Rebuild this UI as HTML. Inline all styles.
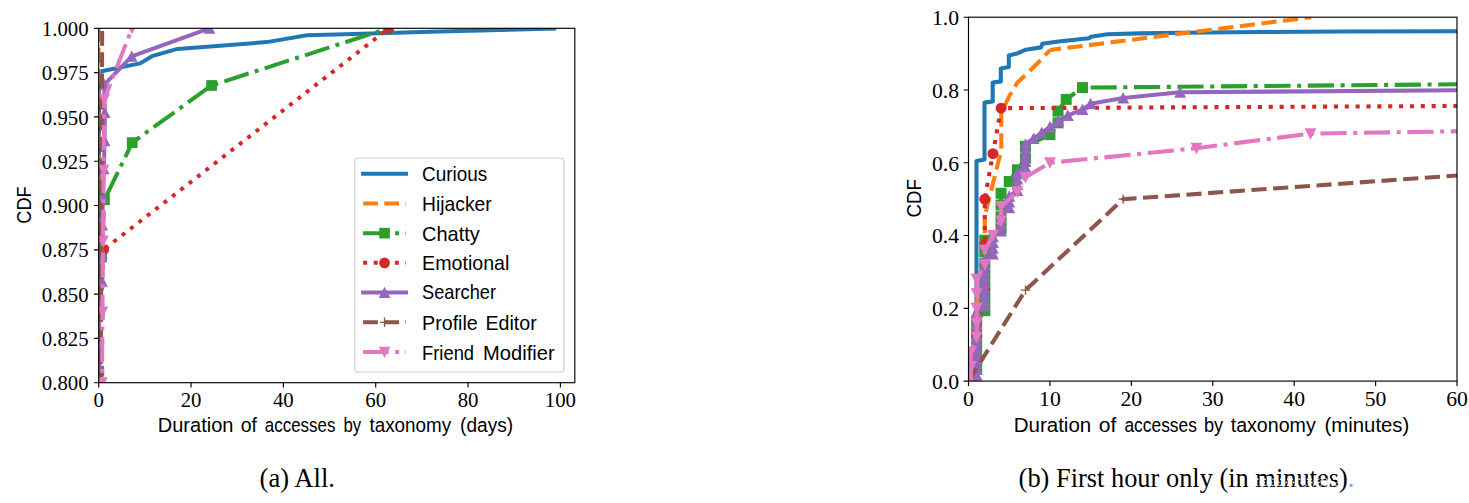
<!DOCTYPE html>
<html><head><meta charset="utf-8"><title>CDF of access durations</title>
<style>
html,body{margin:0;padding:0;background:#fff;}
body{width:1469px;height:503px;overflow:hidden;font-family:"Liberation Sans",sans-serif;}
svg{display:block;}
</style></head><body>
<svg width="1469" height="503" viewBox="0 0 1469 503">
<rect width="1469" height="503" fill="#ffffff"/>
<defs>
<clipPath id="cl"><rect x="98.7" y="28.3" width="476.1" height="354.4"/></clipPath>
<clipPath id="cr"><rect x="968.5" y="17.2" width="488.5" height="363.9"/></clipPath>
</defs>
<g clip-path="url(#cl)">
<path d="M99 420 L99 73.5 L101.5 71.3 L140.1 63.4 L152 56.2 L177.5 48.9 L266.9 42.1 L306.9 35.2 L345 34.2 L388 33 L430 31.8 L554.2 28.5" fill="none" stroke="#1f77b4" stroke-width="4" stroke-linejoin="round" stroke-linecap="square"/>
<path d="M98.5 420 L98.5 20" fill="none" stroke="#ff7f0e" stroke-width="4" stroke-linejoin="round" stroke-linecap="butt" stroke-dasharray="14.8 6.4" stroke-dashoffset="3"/>
<path d="M98.8 430 L98.8 371.27 L99.2 314.11 L101.5 256.95 L104.5 199.78 L132.2 142.62 L211.6 85.46 L388.6 28.3" fill="none" stroke="#2ca02c" stroke-width="4" stroke-linejoin="round" stroke-linecap="butt" stroke-dasharray="25.6 6.4 4 6.4" stroke-dashoffset="18.96"/>
<rect x="93.45" y="365.92" width="10.7" height="10.7" fill="#2ca02c"/>
<rect x="93.85" y="308.76" width="10.7" height="10.7" fill="#2ca02c"/>
<rect x="96.15" y="251.6" width="10.7" height="10.7" fill="#2ca02c"/>
<rect x="99.15" y="194.43" width="10.7" height="10.7" fill="#2ca02c"/>
<rect x="126.85" y="137.27" width="10.7" height="10.7" fill="#2ca02c"/>
<rect x="206.25" y="80.11" width="10.7" height="10.7" fill="#2ca02c"/>
<rect x="383.25" y="22.95" width="10.7" height="10.7" fill="#2ca02c"/>
<path d="M98.8 471 L101.2 300 L103.7 249.6 L388.8 28.3" fill="none" stroke="#d62728" stroke-width="4" stroke-linejoin="round" stroke-linecap="butt" stroke-dasharray="4 6.6" stroke-dashoffset="9.92"/>
<circle cx="103.7" cy="249.6" r="5.35" fill="#d62728"/>
<circle cx="388.8" cy="28.3" r="5.35" fill="#d62728"/>
<path d="M98.9 430 L98.9 393.95 L98.9 365.82 L99 337.7 L99.2 309.57 L102 281.44 L102.1 253.32 L102.3 225.19 L102.9 197.06 L103.8 168.93 L104.6 140.81 L104.8 112.68 L104.3 84.55 L131.7 56.43 L209.5 28.3" fill="none" stroke="#9467bd" stroke-width="4" stroke-linejoin="round" stroke-linecap="square"/>
<path d="M98.9 388 L104.7 399.3 L93.1 399.3 Z" fill="#9467bd"/>
<path d="M98.9 359.87 L104.7 371.17 L93.1 371.17 Z" fill="#9467bd"/>
<path d="M99 331.75 L104.8 343.05 L93.2 343.05 Z" fill="#9467bd"/>
<path d="M99.2 303.62 L105 314.92 L93.4 314.92 Z" fill="#9467bd"/>
<path d="M102 275.49 L107.8 286.79 L96.2 286.79 Z" fill="#9467bd"/>
<path d="M102.1 247.37 L107.9 258.67 L96.3 258.67 Z" fill="#9467bd"/>
<path d="M102.3 219.24 L108.1 230.54 L96.5 230.54 Z" fill="#9467bd"/>
<path d="M102.9 191.11 L108.7 202.41 L97.1 202.41 Z" fill="#9467bd"/>
<path d="M103.8 162.98 L109.6 174.28 L98 174.28 Z" fill="#9467bd"/>
<path d="M104.6 134.86 L110.4 146.16 L98.8 146.16 Z" fill="#9467bd"/>
<path d="M104.8 106.73 L110.6 118.03 L99 118.03 Z" fill="#9467bd"/>
<path d="M104.3 78.6 L110.1 89.9 L98.5 89.9 Z" fill="#9467bd"/>
<path d="M131.7 50.48 L137.5 61.78 L125.9 61.78 Z" fill="#9467bd"/>
<path d="M209.5 22.35 L215.3 33.65 L203.7 33.65 Z" fill="#9467bd"/>
<path d="M100.4 470 L102.2 28.3" fill="none" stroke="#8c564b" stroke-width="4" stroke-linejoin="round" stroke-linecap="butt" stroke-dasharray="14.8 6.4" stroke-dashoffset="21"/>
<path d="M101.5 450 L102 382.7 L102.5 311.82 L103 240.94 L103.6 170.06 L104.3 99.18 L132.1 28.3" fill="none" stroke="#e377c2" stroke-width="4" stroke-linejoin="round" stroke-linecap="butt" stroke-dasharray="25.6 6.4 4 6.4" stroke-dashoffset="39.76"/>
<path d="M102 388.65 L107.8 377.35 L96.2 377.35 Z" fill="#e377c2"/>
<path d="M102.5 317.77 L108.3 306.47 L96.7 306.47 Z" fill="#e377c2"/>
<path d="M103 246.89 L108.8 235.59 L97.2 235.59 Z" fill="#e377c2"/>
<path d="M103.6 176.01 L109.4 164.71 L97.8 164.71 Z" fill="#e377c2"/>
<path d="M104.3 105.13 L110.1 93.83 L98.5 93.83 Z" fill="#e377c2"/>
<path d="M132.1 34.25 L137.9 22.95 L126.3 22.95 Z" fill="#e377c2"/>
</g>
<g clip-path="url(#cr)">
<path d="M976.5 385 L976.5 161 L984.5 159.6 L984.5 102.6 L992.7 101.4 L992.7 82.6 L1000.8 81.4 L1000.8 68.5 L1008.8 67 L1008.8 55.4 L1016.9 53.6 L1025.8 49.7 L1041 47.4 L1042.3 43.8 L1058.4 41.5 L1089 38.3 L1091 36.7 L1107.4 34.2 L1140 33.4 L1183 32.7 L1260 32 L1340 31.5 L1457 31.2" fill="none" stroke="#1f77b4" stroke-width="4.1" stroke-linejoin="round" stroke-linecap="square"/>
<path d="M976.6 385 L976.6 300 L984.8 300 L984.8 216 L1001.3 150 L1001.3 113 L1009.3 96 L1017.4 82.5 L1025.6 74.8 L1033.7 67 L1041.8 59 L1049.9 50" fill="none" stroke="#ff7f0e" stroke-width="4.1" stroke-linejoin="round" stroke-linecap="butt" stroke-dasharray="15.17 6.56" stroke-dashoffset="14"/>
<path d="M1049.9 50 L1311.3 17.2" fill="none" stroke="#ff7f0e" stroke-width="4.1" stroke-linejoin="round" stroke-linecap="butt" stroke-dasharray="15.17 6.56" stroke-dashoffset="4.1"/>
<path d="M976.64 385 L976.64 369.36 L976.64 357.62 L976.64 345.88 L976.64 334.15 L976.64 322.41 L984.78 310.67 L984.78 298.93 L984.78 287.19 L984.78 275.45 L984.78 263.71 L984.78 251.97 L984.78 240.24 L1001.07 228.5 L1001.07 216.76 L1001.07 205.02 L1001.07 193.28 L1009.21 181.54 L1017.35 169.8 L1025.49 158.06 L1025.49 146.33 L1049.92 134.59 L1058.06 122.85 L1058.06 111.11 L1066.2 99.37 L1082.49 87.63 L1457 84.3" fill="none" stroke="#2ca02c" stroke-width="4.1" stroke-linejoin="round" stroke-linecap="butt" stroke-dasharray="26.24 6.56 4.1 6.56" stroke-dashoffset="38.44"/>
<rect x="971.14" y="363.86" width="11" height="11" fill="#2ca02c"/>
<rect x="971.14" y="352.12" width="11" height="11" fill="#2ca02c"/>
<rect x="971.14" y="340.38" width="11" height="11" fill="#2ca02c"/>
<rect x="971.14" y="328.65" width="11" height="11" fill="#2ca02c"/>
<rect x="971.14" y="316.91" width="11" height="11" fill="#2ca02c"/>
<rect x="979.28" y="305.17" width="11" height="11" fill="#2ca02c"/>
<rect x="979.28" y="293.43" width="11" height="11" fill="#2ca02c"/>
<rect x="979.28" y="281.69" width="11" height="11" fill="#2ca02c"/>
<rect x="979.28" y="269.95" width="11" height="11" fill="#2ca02c"/>
<rect x="979.28" y="258.21" width="11" height="11" fill="#2ca02c"/>
<rect x="979.28" y="246.47" width="11" height="11" fill="#2ca02c"/>
<rect x="979.28" y="234.74" width="11" height="11" fill="#2ca02c"/>
<rect x="995.57" y="223" width="11" height="11" fill="#2ca02c"/>
<rect x="995.57" y="211.26" width="11" height="11" fill="#2ca02c"/>
<rect x="995.57" y="199.52" width="11" height="11" fill="#2ca02c"/>
<rect x="995.57" y="187.78" width="11" height="11" fill="#2ca02c"/>
<rect x="1003.71" y="176.04" width="11" height="11" fill="#2ca02c"/>
<rect x="1011.85" y="164.3" width="11" height="11" fill="#2ca02c"/>
<rect x="1019.99" y="152.56" width="11" height="11" fill="#2ca02c"/>
<rect x="1019.99" y="140.83" width="11" height="11" fill="#2ca02c"/>
<rect x="1044.42" y="129.09" width="11" height="11" fill="#2ca02c"/>
<rect x="1052.56" y="117.35" width="11" height="11" fill="#2ca02c"/>
<rect x="1052.56" y="105.61" width="11" height="11" fill="#2ca02c"/>
<rect x="1060.7" y="93.87" width="11" height="11" fill="#2ca02c"/>
<rect x="1076.99" y="82.13" width="11" height="11" fill="#2ca02c"/>
<path d="M971.35 385 L976.64 335.61 L984.78 290.12 L984.78 244.64 L984.78 199.15 L992.93 153.66 L1001.07 108.18 L1457 106" fill="none" stroke="#d62728" stroke-width="4.1" stroke-linejoin="round" stroke-linecap="butt" stroke-dasharray="4.1 6.76" stroke-dashoffset="6.93"/>
<circle cx="976.64" cy="335.61" r="5.5" fill="#d62728"/>
<circle cx="984.78" cy="290.12" r="5.5" fill="#d62728"/>
<circle cx="984.78" cy="244.64" r="5.5" fill="#d62728"/>
<circle cx="984.78" cy="199.15" r="5.5" fill="#d62728"/>
<circle cx="992.93" cy="153.66" r="5.5" fill="#d62728"/>
<circle cx="1001.07" cy="108.18" r="5.5" fill="#d62728"/>
<path d="M976.64 385 L976.64 375.32 L976.64 369.55 L976.64 363.77 L976.64 358 L976.64 352.22 L976.64 346.44 L976.64 340.67 L976.64 334.89 L976.64 329.11 L976.64 323.34 L976.64 317.56 L976.64 311.79 L984.78 306.01 L984.78 300.23 L984.78 294.46 L984.78 288.68 L984.78 282.9 L984.78 277.13 L984.78 271.35 L984.78 265.58 L984.78 259.8 L992.93 254.02 L992.93 248.25 L992.93 242.47 L992.93 236.7 L1001.07 230.92 L1001.07 225.14 L1001.07 219.37 L1001.07 213.59 L1009.21 207.81 L1009.21 202.04 L1009.21 196.26 L1017.35 190.49 L1017.35 184.71 L1017.35 178.93 L1017.35 173.16 L1025.49 167.38 L1025.49 161.6 L1025.49 155.83 L1025.49 150.05 L1025.49 144.28 L1033.64 138.5 L1041.78 132.72 L1049.92 126.95 L1058.06 121.17 L1067.83 115.4 L1082.49 109.62 L1090.63 103.84 L1123.2 98.07 L1180.19 92.29 L1457 90.3" fill="none" stroke="#9467bd" stroke-width="4.1" stroke-linejoin="round" stroke-linecap="square"/>
<path d="M976.64 369.22 L982.59 380.82 L970.69 380.82 Z" fill="#9467bd"/>
<path d="M976.64 363.45 L982.59 375.05 L970.69 375.05 Z" fill="#9467bd"/>
<path d="M976.64 357.67 L982.59 369.27 L970.69 369.27 Z" fill="#9467bd"/>
<path d="M976.64 351.9 L982.59 363.5 L970.69 363.5 Z" fill="#9467bd"/>
<path d="M976.64 346.12 L982.59 357.72 L970.69 357.72 Z" fill="#9467bd"/>
<path d="M976.64 340.34 L982.59 351.94 L970.69 351.94 Z" fill="#9467bd"/>
<path d="M976.64 334.57 L982.59 346.17 L970.69 346.17 Z" fill="#9467bd"/>
<path d="M976.64 328.79 L982.59 340.39 L970.69 340.39 Z" fill="#9467bd"/>
<path d="M976.64 323.01 L982.59 334.61 L970.69 334.61 Z" fill="#9467bd"/>
<path d="M976.64 317.24 L982.59 328.84 L970.69 328.84 Z" fill="#9467bd"/>
<path d="M976.64 311.46 L982.59 323.06 L970.69 323.06 Z" fill="#9467bd"/>
<path d="M976.64 305.69 L982.59 317.29 L970.69 317.29 Z" fill="#9467bd"/>
<path d="M984.78 299.91 L990.73 311.51 L978.83 311.51 Z" fill="#9467bd"/>
<path d="M984.78 294.13 L990.73 305.73 L978.83 305.73 Z" fill="#9467bd"/>
<path d="M984.78 288.36 L990.73 299.96 L978.83 299.96 Z" fill="#9467bd"/>
<path d="M984.78 282.58 L990.73 294.18 L978.83 294.18 Z" fill="#9467bd"/>
<path d="M984.78 276.8 L990.73 288.4 L978.83 288.4 Z" fill="#9467bd"/>
<path d="M984.78 271.03 L990.73 282.63 L978.83 282.63 Z" fill="#9467bd"/>
<path d="M984.78 265.25 L990.73 276.85 L978.83 276.85 Z" fill="#9467bd"/>
<path d="M984.78 259.48 L990.73 271.08 L978.83 271.08 Z" fill="#9467bd"/>
<path d="M984.78 253.7 L990.73 265.3 L978.83 265.3 Z" fill="#9467bd"/>
<path d="M992.93 247.92 L998.88 259.52 L986.98 259.52 Z" fill="#9467bd"/>
<path d="M992.93 242.15 L998.88 253.75 L986.98 253.75 Z" fill="#9467bd"/>
<path d="M992.93 236.37 L998.88 247.97 L986.98 247.97 Z" fill="#9467bd"/>
<path d="M992.93 230.6 L998.88 242.2 L986.98 242.2 Z" fill="#9467bd"/>
<path d="M1001.07 224.82 L1007.02 236.42 L995.12 236.42 Z" fill="#9467bd"/>
<path d="M1001.07 219.04 L1007.02 230.64 L995.12 230.64 Z" fill="#9467bd"/>
<path d="M1001.07 213.27 L1007.02 224.87 L995.12 224.87 Z" fill="#9467bd"/>
<path d="M1001.07 207.49 L1007.02 219.09 L995.12 219.09 Z" fill="#9467bd"/>
<path d="M1009.21 201.71 L1015.16 213.31 L1003.26 213.31 Z" fill="#9467bd"/>
<path d="M1009.21 195.94 L1015.16 207.54 L1003.26 207.54 Z" fill="#9467bd"/>
<path d="M1009.21 190.16 L1015.16 201.76 L1003.26 201.76 Z" fill="#9467bd"/>
<path d="M1017.35 184.39 L1023.3 195.99 L1011.4 195.99 Z" fill="#9467bd"/>
<path d="M1017.35 178.61 L1023.3 190.21 L1011.4 190.21 Z" fill="#9467bd"/>
<path d="M1017.35 172.83 L1023.3 184.43 L1011.4 184.43 Z" fill="#9467bd"/>
<path d="M1017.35 167.06 L1023.3 178.66 L1011.4 178.66 Z" fill="#9467bd"/>
<path d="M1025.49 161.28 L1031.44 172.88 L1019.54 172.88 Z" fill="#9467bd"/>
<path d="M1025.49 155.5 L1031.44 167.1 L1019.54 167.1 Z" fill="#9467bd"/>
<path d="M1025.49 149.73 L1031.44 161.33 L1019.54 161.33 Z" fill="#9467bd"/>
<path d="M1025.49 143.95 L1031.44 155.55 L1019.54 155.55 Z" fill="#9467bd"/>
<path d="M1025.49 138.18 L1031.44 149.78 L1019.54 149.78 Z" fill="#9467bd"/>
<path d="M1033.64 132.4 L1039.59 144 L1027.69 144 Z" fill="#9467bd"/>
<path d="M1041.78 126.62 L1047.73 138.22 L1035.83 138.22 Z" fill="#9467bd"/>
<path d="M1049.92 120.85 L1055.87 132.45 L1043.97 132.45 Z" fill="#9467bd"/>
<path d="M1058.06 115.07 L1064.01 126.67 L1052.11 126.67 Z" fill="#9467bd"/>
<path d="M1067.83 109.3 L1073.78 120.9 L1061.88 120.9 Z" fill="#9467bd"/>
<path d="M1082.49 103.52 L1088.44 115.12 L1076.54 115.12 Z" fill="#9467bd"/>
<path d="M1090.63 97.74 L1096.58 109.34 L1084.68 109.34 Z" fill="#9467bd"/>
<path d="M1123.2 91.97 L1129.15 103.57 L1117.25 103.57 Z" fill="#9467bd"/>
<path d="M1180.19 86.19 L1186.14 97.79 L1174.24 97.79 Z" fill="#9467bd"/>
<path d="M968.5 381.1 L1025.49 290.12 L1123.2 199.15 L1457 175.5" fill="none" stroke="#8c564b" stroke-width="4.1" stroke-linejoin="round" stroke-linecap="butt" stroke-dasharray="15.17 6.56" stroke-dashoffset="0"/>
<path d="M963.8 381.1 H973.2 M968.5 376.4 V385.8" stroke="#8c564b" stroke-width="1.35" fill="none"/>
<path d="M1020.79 290.12 H1030.19 M1025.49 285.43 V294.82" stroke="#8c564b" stroke-width="1.35" fill="none"/>
<path d="M1118.5 199.15 H1127.9 M1123.2 194.45 V203.85" stroke="#8c564b" stroke-width="1.35" fill="none"/>
<path d="M970.94 385 L970.94 366.54 L970.94 351.99 L976.64 337.43 L976.64 322.88 L976.64 308.32 L976.64 293.76 L976.64 279.21 L984.78 264.65 L984.78 250.1 L992.93 235.54 L1001.07 220.98 L1001.07 206.43 L1017.35 191.87 L1025.49 177.32 L1049.92 162.76 L1196.48 148.2 L1310.46 133.65 L1457 131.3" fill="none" stroke="#e377c2" stroke-width="4.1" stroke-linejoin="round" stroke-linecap="butt" stroke-dasharray="26.24 6.56 4.1 6.56" stroke-dashoffset="39.88"/>
<path d="M970.94 372.64 L976.89 361.04 L964.99 361.04 Z" fill="#e377c2"/>
<path d="M970.94 358.09 L976.89 346.49 L964.99 346.49 Z" fill="#e377c2"/>
<path d="M976.64 343.53 L982.59 331.93 L970.69 331.93 Z" fill="#e377c2"/>
<path d="M976.64 328.98 L982.59 317.38 L970.69 317.38 Z" fill="#e377c2"/>
<path d="M976.64 314.42 L982.59 302.82 L970.69 302.82 Z" fill="#e377c2"/>
<path d="M976.64 299.86 L982.59 288.26 L970.69 288.26 Z" fill="#e377c2"/>
<path d="M976.64 285.31 L982.59 273.71 L970.69 273.71 Z" fill="#e377c2"/>
<path d="M984.78 270.75 L990.73 259.15 L978.83 259.15 Z" fill="#e377c2"/>
<path d="M984.78 256.2 L990.73 244.6 L978.83 244.6 Z" fill="#e377c2"/>
<path d="M992.93 241.64 L998.88 230.04 L986.98 230.04 Z" fill="#e377c2"/>
<path d="M1001.07 227.08 L1007.02 215.48 L995.12 215.48 Z" fill="#e377c2"/>
<path d="M1001.07 212.53 L1007.02 200.93 L995.12 200.93 Z" fill="#e377c2"/>
<path d="M1017.35 197.97 L1023.3 186.37 L1011.4 186.37 Z" fill="#e377c2"/>
<path d="M1025.49 183.42 L1031.44 171.82 L1019.54 171.82 Z" fill="#e377c2"/>
<path d="M1049.92 168.86 L1055.87 157.26 L1043.97 157.26 Z" fill="#e377c2"/>
<path d="M1196.48 154.3 L1202.43 142.7 L1190.53 142.7 Z" fill="#e377c2"/>
<path d="M1310.46 139.75 L1316.41 128.15 L1304.51 128.15 Z" fill="#e377c2"/>
</g>
<rect x="98.7" y="28.3" width="476.1" height="354.4" fill="none" stroke="#000" stroke-width="1.15"/>
<path d="M98.7 382.7 v4.7 M191.04 382.7 v4.7 M283.38 382.7 v4.7 M375.72 382.7 v4.7 M468.06 382.7 v4.7 M560.4 382.7 v4.7 M98.7 382.7 h-4.7 M98.7 338.4 h-4.7 M98.7 294.1 h-4.7 M98.7 249.8 h-4.7 M98.7 205.5 h-4.7 M98.7 161.2 h-4.7 M98.7 116.9 h-4.7 M98.7 72.6 h-4.7 M98.7 28.3 h-4.7 " stroke="#000" stroke-width="1.15" fill="none"/>
<rect x="968.5" y="17.2" width="488.5" height="363.9" fill="none" stroke="#000" stroke-width="1.15"/>
<path d="M968.5 381.1 v4.9 M1049.92 381.1 v4.9 M1131.34 381.1 v4.9 M1212.76 381.1 v4.9 M1294.18 381.1 v4.9 M1375.6 381.1 v4.9 M1457.02 381.1 v4.9 M968.5 381.1 h-4.9 M968.5 308.32 h-4.9 M968.5 235.54 h-4.9 M968.5 162.76 h-4.9 M968.5 89.98 h-4.9 M968.5 17.2 h-4.9 " stroke="#000" stroke-width="1.15" fill="none"/>
<text x="88.6" y="390.3" font-family="Liberation Serif, serif" font-size="20.8" text-anchor="end" fill="#000" >0.800</text>
<text x="88.6" y="346" font-family="Liberation Serif, serif" font-size="20.8" text-anchor="end" fill="#000" >0.825</text>
<text x="88.6" y="301.7" font-family="Liberation Serif, serif" font-size="20.8" text-anchor="end" fill="#000" >0.850</text>
<text x="88.6" y="257.4" font-family="Liberation Serif, serif" font-size="20.8" text-anchor="end" fill="#000" >0.875</text>
<text x="88.6" y="213.1" font-family="Liberation Serif, serif" font-size="20.8" text-anchor="end" fill="#000" >0.900</text>
<text x="88.6" y="168.8" font-family="Liberation Serif, serif" font-size="20.8" text-anchor="end" fill="#000" >0.925</text>
<text x="88.6" y="124.5" font-family="Liberation Serif, serif" font-size="20.8" text-anchor="end" fill="#000" >0.950</text>
<text x="88.6" y="80.2" font-family="Liberation Serif, serif" font-size="20.8" text-anchor="end" fill="#000" >0.975</text>
<text x="88.6" y="35.9" font-family="Liberation Serif, serif" font-size="20.8" text-anchor="end" fill="#000" >1.000</text>
<text x="98.7" y="407" font-family="Liberation Serif, serif" font-size="20.8" text-anchor="middle" fill="#000" >0</text>
<text x="191.04" y="407" font-family="Liberation Serif, serif" font-size="20.8" text-anchor="middle" fill="#000" >20</text>
<text x="283.38" y="407" font-family="Liberation Serif, serif" font-size="20.8" text-anchor="middle" fill="#000" >40</text>
<text x="375.72" y="407" font-family="Liberation Serif, serif" font-size="20.8" text-anchor="middle" fill="#000" >60</text>
<text x="468.06" y="407" font-family="Liberation Serif, serif" font-size="20.8" text-anchor="middle" fill="#000" >80</text>
<text x="560.4" y="407" font-family="Liberation Serif, serif" font-size="20.8" text-anchor="middle" fill="#000" >100</text>
<text x="959" y="388.9" font-family="Liberation Serif, serif" font-size="21.7" text-anchor="end" fill="#000" >0.0</text>
<text x="959" y="316.12" font-family="Liberation Serif, serif" font-size="21.7" text-anchor="end" fill="#000" >0.2</text>
<text x="959" y="243.34" font-family="Liberation Serif, serif" font-size="21.7" text-anchor="end" fill="#000" >0.4</text>
<text x="959" y="170.56" font-family="Liberation Serif, serif" font-size="21.7" text-anchor="end" fill="#000" >0.6</text>
<text x="959" y="97.78" font-family="Liberation Serif, serif" font-size="21.7" text-anchor="end" fill="#000" >0.8</text>
<text x="959" y="25" font-family="Liberation Serif, serif" font-size="21.7" text-anchor="end" fill="#000" >1.0</text>
<text x="968.5" y="406" font-family="Liberation Serif, serif" font-size="21.7" text-anchor="middle" fill="#000" >0</text>
<text x="1049.92" y="406" font-family="Liberation Serif, serif" font-size="21.7" text-anchor="middle" fill="#000" >10</text>
<text x="1131.34" y="406" font-family="Liberation Serif, serif" font-size="21.7" text-anchor="middle" fill="#000" >20</text>
<text x="1212.76" y="406" font-family="Liberation Serif, serif" font-size="21.7" text-anchor="middle" fill="#000" >30</text>
<text x="1294.18" y="406" font-family="Liberation Serif, serif" font-size="21.7" text-anchor="middle" fill="#000" >40</text>
<text x="1375.6" y="406" font-family="Liberation Serif, serif" font-size="21.7" text-anchor="middle" fill="#000" >50</text>
<text x="1457.02" y="406" font-family="Liberation Serif, serif" font-size="21.7" text-anchor="middle" fill="#000" >60</text>
<text x="157.8" y="432.1" font-family="Liberation Sans, sans-serif" font-size="19.9" text-anchor="start" fill="#000" textLength="75.6" lengthAdjust="spacingAndGlyphs" >Duration</text>
<text x="240.8" y="432.1" font-family="Liberation Sans, sans-serif" font-size="19.9" text-anchor="start" fill="#000" textLength="16.2" lengthAdjust="spacingAndGlyphs" >of</text>
<text x="264.8" y="432.1" font-family="Liberation Sans, sans-serif" font-size="19.9" text-anchor="start" fill="#000" textLength="70.6" lengthAdjust="spacingAndGlyphs" >accesses</text>
<text x="343.5" y="432.1" font-family="Liberation Sans, sans-serif" font-size="19.9" text-anchor="start" fill="#000" textLength="17.7" lengthAdjust="spacingAndGlyphs" >by</text>
<text x="369.5" y="432.1" font-family="Liberation Sans, sans-serif" font-size="19.9" text-anchor="start" fill="#000" textLength="81.6" lengthAdjust="spacingAndGlyphs" >taxonomy</text>
<text x="460.1" y="432.1" font-family="Liberation Sans, sans-serif" font-size="19.9" text-anchor="start" fill="#000" textLength="53.1" lengthAdjust="spacingAndGlyphs" >(days)</text>
<text x="1013.7" y="432.1" font-family="Liberation Sans, sans-serif" font-size="20.1" text-anchor="start" fill="#000" textLength="77.5" lengthAdjust="spacingAndGlyphs" >Duration</text>
<text x="1098.7" y="432.1" font-family="Liberation Sans, sans-serif" font-size="20.1" text-anchor="start" fill="#000" textLength="17.6" lengthAdjust="spacingAndGlyphs" >of</text>
<text x="1124.4" y="432.1" font-family="Liberation Sans, sans-serif" font-size="20.1" text-anchor="start" fill="#000" textLength="72.5" lengthAdjust="spacingAndGlyphs" >accesses</text>
<text x="1204" y="432.1" font-family="Liberation Sans, sans-serif" font-size="20.1" text-anchor="start" fill="#000" textLength="19.2" lengthAdjust="spacingAndGlyphs" >by</text>
<text x="1230.7" y="432.1" font-family="Liberation Sans, sans-serif" font-size="20.1" text-anchor="start" fill="#000" textLength="85.1" lengthAdjust="spacingAndGlyphs" >taxonomy</text>
<text x="1324.6" y="432.1" font-family="Liberation Sans, sans-serif" font-size="20.1" text-anchor="start" fill="#000" textLength="84.7" lengthAdjust="spacingAndGlyphs" >(minutes)</text>
<text transform="translate(30.8 205) rotate(-90)" font-family="Liberation Sans, sans-serif" font-size="19.8" text-anchor="middle" textLength="37.3" lengthAdjust="spacingAndGlyphs">CDF</text>
<text transform="translate(920.8 198.3) rotate(-90)" font-family="Liberation Sans, sans-serif" font-size="20.2" text-anchor="middle" textLength="38.4" lengthAdjust="spacingAndGlyphs">CDF</text>
<text x="259.6" y="486.8" font-family="Liberation Serif, serif" font-size="26.6" text-anchor="start" fill="#000" >(a) All.</text>
<text x="1018.6" y="487" font-family="Liberation Serif, serif" font-size="26.4" text-anchor="start" fill="#000" >(b) First hour only (in minutes)<tspan fill="#9a9a9a">.</tspan></text>
<path d="M1257 479.2 H1339" stroke="#ffffff" stroke-width="1.5" stroke-dasharray="1.5 2.3 1.2 1.9 2 2.6" fill="none" opacity="0.85"/>
<path d="M1258 482.5 H1338" stroke="#ffffff" stroke-width="1.5" stroke-dasharray="1.3 1.8 1.8 2.4" stroke-dashoffset="1.5" fill="none" opacity="0.95"/>
<path d="M1257.5 485.6 H1338.5" stroke="#ffffff" stroke-width="1.5" stroke-dasharray="1.6 2.1 1.2 2.6" stroke-dashoffset="0.7" fill="none" opacity="0.9"/>
<rect x="354.8" y="158.1" width="209.1" height="214" rx="3.2" ry="3.2" fill="#ffffff" fill-opacity="0.8" stroke="#cccccc" stroke-opacity="0.8" stroke-width="1.35"/>
<path d="M363.1 173.7 L406 173.7" fill="none" stroke="#1f77b4" stroke-width="4" stroke-linejoin="round" stroke-linecap="square"/>
<text x="422.1" y="180.7" font-family="Liberation Sans, sans-serif" font-size="20.3" text-anchor="start" fill="#000" textLength="65.1" lengthAdjust="spacingAndGlyphs" >Curious</text>
<path d="M363.1 203.42 L406 203.42" fill="none" stroke="#ff7f0e" stroke-width="4" stroke-linejoin="round" stroke-linecap="butt" stroke-dasharray="14.8 6.4" stroke-dashoffset="0"/>
<text x="422.1" y="210.7" font-family="Liberation Sans, sans-serif" font-size="20.3" text-anchor="start" fill="#000" textLength="69.6" lengthAdjust="spacingAndGlyphs" >Hijacker</text>
<path d="M363.1 233.14 L406 233.14" fill="none" stroke="#2ca02c" stroke-width="4" stroke-linejoin="round" stroke-linecap="butt" stroke-dasharray="25.6 6.4 4 6.4" stroke-dashoffset="0"/>
<rect x="379.2" y="227.79" width="10.7" height="10.7" fill="#2ca02c"/>
<text x="422.1" y="240.9" font-family="Liberation Sans, sans-serif" font-size="20.3" text-anchor="start" fill="#000" textLength="57.7" lengthAdjust="spacingAndGlyphs" >Chatty</text>
<path d="M363.1 262.86 L406 262.86" fill="none" stroke="#d62728" stroke-width="4" stroke-linejoin="round" stroke-linecap="butt" stroke-dasharray="4 6.6" stroke-dashoffset="0"/>
<circle cx="384.55" cy="262.86" r="5.35" fill="#d62728"/>
<text x="422.1" y="269.7" font-family="Liberation Sans, sans-serif" font-size="20.3" text-anchor="start" fill="#000" textLength="87.3" lengthAdjust="spacingAndGlyphs" >Emotional</text>
<path d="M363.1 292.58 L406 292.58" fill="none" stroke="#9467bd" stroke-width="4" stroke-linejoin="round" stroke-linecap="square"/>
<path d="M384.55 286.63 L390.35 297.93 L378.75 297.93 Z" fill="#9467bd"/>
<text x="422.1" y="299.2" font-family="Liberation Sans, sans-serif" font-size="20.3" text-anchor="start" fill="#000" textLength="73.9" lengthAdjust="spacingAndGlyphs" >Searcher</text>
<path d="M363.1 322.3 L406 322.3" fill="none" stroke="#8c564b" stroke-width="4" stroke-linejoin="round" stroke-linecap="butt" stroke-dasharray="14.8 6.4" stroke-dashoffset="0"/>
<path d="M379.85 322.3 H389.25 M384.55 317.6 V327" stroke="#8c564b" stroke-width="1.35" fill="none"/>
<text x="422" y="329.7" font-family="Liberation Sans, sans-serif" font-size="20.3" text-anchor="start" fill="#000" textLength="55.8" lengthAdjust="spacingAndGlyphs" >Profile</text>
<text x="485.4" y="329.7" font-family="Liberation Sans, sans-serif" font-size="20.3" text-anchor="start" fill="#000" textLength="51.3" lengthAdjust="spacingAndGlyphs" >Editor</text>
<path d="M363.1 352.02 L406 352.02" fill="none" stroke="#e377c2" stroke-width="4" stroke-linejoin="round" stroke-linecap="butt" stroke-dasharray="25.6 6.4 4 6.4" stroke-dashoffset="0"/>
<path d="M384.55 357.97 L390.35 346.67 L378.75 346.67 Z" fill="#e377c2"/>
<text x="422" y="359.5" font-family="Liberation Sans, sans-serif" font-size="20.3" text-anchor="start" fill="#000" textLength="52.1" lengthAdjust="spacingAndGlyphs" >Friend</text>
<text x="483.1" y="359.5" font-family="Liberation Sans, sans-serif" font-size="20.3" text-anchor="start" fill="#000" textLength="71.5" lengthAdjust="spacingAndGlyphs" >Modifier</text>
</svg>
</body></html>
